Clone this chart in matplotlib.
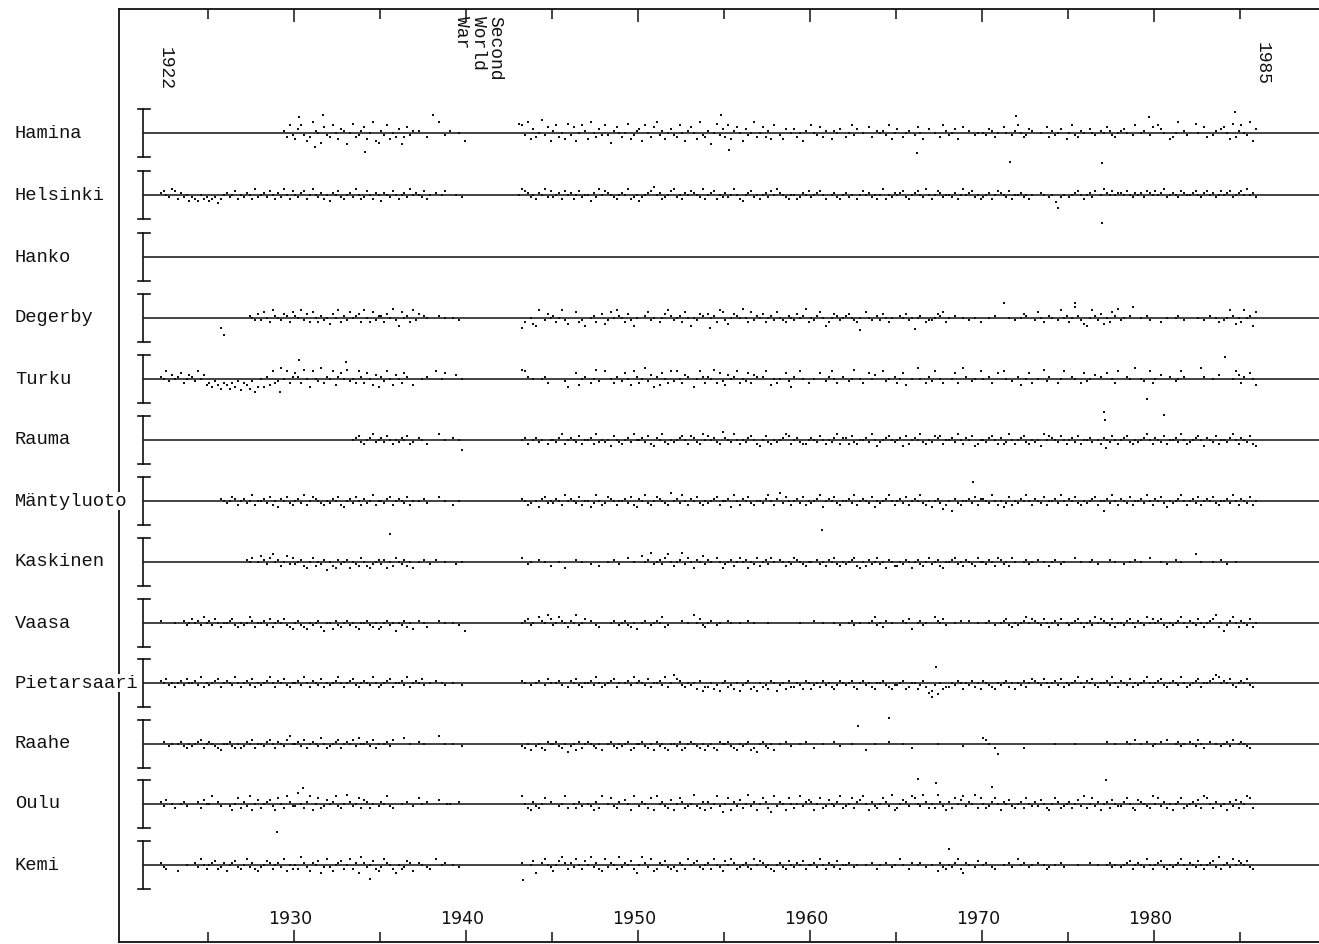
import matplotlib
matplotlib.use("Agg")
import matplotlib.pyplot as plt
import numpy as np

# ---------------- data ----------------
stations = ["Hamina", "Helsinki", "Hanko", "Degerby", "Turku", "Rauma",
            "Mäntyluoto", "Kaskinen", "Vaasa", "Pietarsaari", "Raahe",
            "Oulu", "Kemi"]
first_year = 1922
samples_per_year = 6
decade_labels = [1930, 1940, 1950, 1960, 1970, 1980]
start_label, end_label = "1922", "1985"
event_label = "Second\nWorld\nWar"

# residuals, one char per sample (6 per year, 1922-1985), 'm' = 0,
# 'n','o','p',... = +1,+2,+3...; 'l','k','j',... = -1,-2,-3...; '.' = no data
hamina = """
...... ...... ...... ...... ...... ...... ...... ..nkql
joqlik snmhpl kqmjon gmrkln pjmsih nlqjmk ogkpln .n..k.
..s.l. n..m.i ...... ...... ...... rqlsjo kmtlpi nqkmjr
lpimqn jsmkol qlhnpm kmrjln oiqmkp slnjmo lkqmin pmjslk
ngmrlo kqjnpm iolmsk mpknjq .ljo.m okmin. qmlpkn .jnmo.
kmqlo. m.pk.n mnlqjm o.kmn. lpmj.o .m.kqn lmoj.p .n.lm.
mlonkm .pm.ln qmklon ..m.pk nlmo.j mqlknm .oml.n mpnlkm
nom.lq .mn.lp .qom.j kms.nl ..rm.p k.ln.o pmjrkn qmlsio
"""
helsinki = """
.nomlp oknlmj lkjmkl jklikm nlmokm lnmkpl mnlomk nlpmko
mlnokm pmlnkm jnmolk mnlpmk lomknm jnmlom kmnlpm nmlokm
.n.mo. ..m.l. ...... ...... ...... mponlm knmplo lmnkom
nkmolm mjnlpm onmlkm nmpklm jlmnoq mnklmo plmknm onmlpk
mnokml nlmpmk jmnolm kmnlom pnmlkm mklnmo lmnomk .mnlkm
nlm.km omnlmk mpkmln mnolkm nomlpm kmonlm mlnkmp mnolmk
lmnkmo nmlokm mnlmkm ..nm.l m..lm. lmnomk mnlo.m pnmomn
nmomln mnlonm omnplm nmlonm mnomln omnlmo mnolmn ompmnl
"""
hanko = ""
degerby = """
...... ...... ...... ....hd ...... ..nmlo lpmkqn mlonkp
nmqlok pmknlm jomqkn lpmnok qmkpln nkomrl ipmnkq lo.nm.
..n.m. .m.l.. ...... ...... ...... .hk.mj iq.lom nkmqlj
..pkli .mnk.o jlpmqn mkolim ..nplm .kmoqn lmnkpm imlon.
omnkqp ljmonm rmkpln mokmnl pmlknm lomnrk mlnpmi kmonlm
nomlkm .pml.n lomkm. .nmolm gmn.kl lmonpk m.n..m .l.m.k
..m.n. ...m.l .mon.. lpmk.n m.lqmn kmsnlj imqnlo jmkpnr
lm.ns. .m.nl. ..k.m. .mn.l. ...m.l .n.mk. lmqnjm kqmnip
"""
turku = """
.nmqlo mnpkmo nlqmoj kiljhk jhkilg kjhlfi minjqk lsmqkn
pnkrmi qmlskn mqjnpm rlmkqn kpmjoi nlqmjo mkpn.j ..m.n.
.q.mp. ..o.m. ...... ...... ...... .rqn.m ..mnk. ....li
..pjmn .kmrl. q.mkn. lpmjqn kmsloi njpmkq lqmkon .imqnk
nmrkpl jomnqk mlpkon .nq.jm km.pli n.qm.k .m.p.l nqmk.n
.lmr.m k.pmo. .qlm.n kmpj.m .sm.kn lq.mk. .mpk.s n.lm.q
m.nk.p .qm.l. nj.mpk .m.rln ..kmq. .nm.kp lm.o.n .p.mkq
..nm.s .ml.qk m.o..n .lmqn. ....sn ..m.o. ...mqo kn.pmj
"""
rauma = """
...... ...... ...... ...... ...... ...... ...... ......
...... ...... ...... ..mnol kmnplm nlomkm lnmokl .nm.k.
..p.m. .n.mh. ...... ...... ...... .mnk.m nlm.km mlnpkm
nmlokm mnkplm lmjoml kmnlpm mnlokj nmplkm lmnomk onlkpm
omnlkq nmlpmk mlnomk jmolkm lmnpok mnlkkm nmlomk mlnpkn
nkolkm mnlpmj lmnoml mnjokm nmplkm lonokm mnlpmk nmojkm
mlnomk nklpmk mnolkm lmjpmo nmlomk mnlokm mnl.mk nmlomk
mnolkm lmnpmk nmlokm mnlpmk lmnomj nmlokm mlnpmk nmlokj
"""
mantyluoto = """
...... ...... ...... ....nm lmonkm nlmpkm mnlokm jnmolk
mnlpkm onmlkm lnmokj mnlomk nlmpkm mlnokm nmlokm .m.nl.
..o.m. .k.m.. ...... ...... ...... .nmkl. mjnolm lnmkpm
nmlokm mjlpmk lonmkm mnlokj nmplkm onmlkq mnlpmk nmolkm
lmnokm mnjpmk nmolkm mlnpmk nqlomk mnlokm lmnpjm nmolkm
mnlpkm nmlojm lmnpmk mnlokm nmplkm jmnlik mhnlkm mnlokn
nmlpmk mjlokm lnmpmk nmlokm mnlpmk nmolkm lmnokm mnlpmk
nmlokm mnlpmk nmoljm lmnpmk mnlokm nmolkm mnlpmk nmlokm
"""
kaskinen = """
...... ...... ...... ...... ...... .nmo.m pnloqm nkmplo
lmnkjm okmlni mkjnlm njmlko mkjlmn lnjmko mlnkmj .m.n.l
.n..m. ..l.m. ...... ...... ...... .o.lm. .n.m.k ..m.j.
..n.m. .l..k. .m.n.l ..o.m. .pmnrl mnloqm kmnrlo mjnmpl
nm.omj lmnkmo mnjmlo kmnlom .nmkml onmlkm m.nlmk nmolkm
lmnokj mknlmo lmjnmk kmlnmj mnlkmo lmnkjm mnolmk nmlkom
mlnmko nlmkom ..mnlm .n.m.k mn.lm. ..o.m. .mn.l. ..n.m.
.l.m.n .m..o. ..m.l. .n.m.. ..q.m. ..m..n .l..m. ......
"""
vaasa = """
.n.... m..nlm omnlpm nlomkm mnolkm lmpnkm mnlokm nmolkj
mnlkjm lmnkim mjnlkm nlmkjm mnlkmj kmnlmi mlnkmj .n.mk.
..n.m. .m.l.i ...... ...... ...... .mnolm .pnmqo lmpnmk
nmqlmo .n.lk. ..mn.l mnlkmj .mn.lm nmpkl. ...n.m .qmolk
mn.lm. .nm..m ..n.m. ...m.. ...... ..m... .n..m. ..m.l.
.mnl.m ..mnpl mkn.m. ..nmoj .mnlm. .pnmol ..m.n. .n..m.
.mn.l. mnolkm lmnpmo nmlomk mnlo.m lmnomk mnlpmo nmlokm
mlnomk nmlpmo mnolkm lmnpmk nmlomk mnoqkm ilnpmk nmlokm
"""
pietarsaari = """
.nmolm kmnlom mnlpkm lmnokm nmlpmk mnlokm lmnpmk nmolkm
mnlpmk nmlokm lmnpmk mnolkm nmlpmk lmnokm mnlpkm nmol.m
.n.ml. .m..l. ...... ...... ...... .nm.l. mn.lom .mnl.k
nmolkm mnlpmk lmnokm .mnlpm nmlokm mnlpkm qonlkm lmjnik
kmjlim nkljmi lmnjki mkljnm ilmjnk kmljnm jlmknl mkjlnm
lmnkjm nlmkjm mnlkjl lmnjkm mjlnkh ilgmjk kmlnmj mlnkmj
nmlkjm lmnkmj mlnkmo nmlomk mnlokm lmnpmk nmolkm mnlpmk
nmlokm lmnpmk mnolkm nmlpmk lmnokm mnoqpm nmolkm nmolk.
"""
raahe = """
..n.lm .mnlkm lmnokm nmlkjm mnlkmk lnmokm mlnomk nmloqm
mnlokm nmlpmk lmnokm nmolpm mnlokm .mnlo. ..p.m. .n.m..
..q.m. .m..l. ...... ...... ...... .lkmj. lmkjnm mnlkmi
lmjnkm nmlkmj .mnlkm lmnjkm mnlkmj nlmkjm mlnjkm nmlkmj
lmkjnm mnlkjm lmnjki mnlkmj .m.n.l ..m.n. .k..m. ..n.l.
..m... .j..m. ...n.. ..m..k ...... ..m... .....l ......
pom.kh ...... ..k... ...... .m.... ..m... ...... .n..m.
..nm.o .m.n.l m.n.o. .mnlm. nmlomk .n.m.l mnlo.m nmlk..
"""
oulu = """
.nlo.m k.mnl. ..nkom mq.nl. .ljmpk nlqjmo kmnolj pmkqnl
lsmknq jmpklo mnqlkm rnlmpk onkm.l nmqlk. .m.n.l .pm.n.
..o..m m..n.. ...... ...... ...... .qmkjn lkmp.n ..lmqk
.mknl. mljnkq .mplkn .omjq. lnmkpj qmnlko jmpnkl mrlknj
nkmqli mpjnlo kmrlnj mpnkiq lnmjpm kmqlno njmpkl omlnqk
lmpkno qmjnlk mpnlrj kmonlq pmlrnk mkrnlj nkpmoq lnmrkp
mklnpm jnmolk mnkpml nlomkj mpnklm nkmolq kmplnj mnkoml
lnpmkj onmlkq mplnkm jmnpkl mnlokq pmkn.l mjnlok nmqpk.
"""
kemi = """
.nlk.. .j..m. .nlpmk mnokln jmnolk mplnkj lmonkm nlpjmk
mkqnlj nmoilp ljmnok mpkniq nlmokj lpnmki mklonj .nm.lk
.p.mn. .m.l.. ...... ...... ...... .n..mo i.npml jmoqnk
nlpmko mqlnkj plnmkq lnmoki mqnlpj knmolk ljnmkp mnolkm
nkpmlj ompnkl mnlkpm onlmkj mnlkom lnmokm mnlpmk nmlokm
mn.lm. .m.n.k m.n.lm .pm.kn .mn.l. m.jnlk mlnpki nm.lo.
mn.lk. .m.nl. pmn.lm .n.mkl .m.nl. ...m.. .n..m. .mnlm.
lmnokm nmlpmk mnolkm lmnpmk nmlomk mnolqk mnlpmo nmolk.
"""
codes = [hamina, helsinki, hanko, degerby, turku, rauma, mantyluoto,
         kaskinen, vaasa, pietarsaari, raahe, oulu, kemi]

# isolated large residuals (year, value) in the same units
outliers = {
    "Hamina": [(1930.3, 8.5), (1931.7, 9.5), (1934.1, -10), (1931.2, -7.5),
               (1938.1, 9.5), (1954.8, 9.5), (1955.3, -9), (1966.2, -10.5),
               (1971.6, -15), (1972.0, 9), (1977.0, -16), (1979.7, 8.5),
               (1984.7, 11)],
    "Helsinki": [(1974.3, -3.7), (1974.4, -6.8), (1977.0, -14.7)],
    "Degerby": [(1954.2, -5), (1962.9, -6.5), (1971.3, 8), (1975.4, 8)],
    "Turku": [(1930.3, 10), (1933.0, 9), (1929.2, -7), (1979.6, -10.5),
              (1984.1, 11.5)],
    "Rauma": [(1977.1, 14.7), (1977.15, 10.5), (1977.2, -4.2), (1980.6, 13)],
    "Mäntyluoto": [(1969.5, 10), (1977.1, -5)],
    "Kaskinen": [(1935.6, 14.7), (1960.7, 16.8)],
    "Pietarsaari": [(1967.3, 8.5), (1967.1, -7.5)],
    "Raahe": [(1962.8, 9.5), (1964.6, 13.5)],
    "Oulu": [(1929.0, -14.7), (1930.5, 8.5), (1966.3, 13), (1967.3, 11),
             (1970.6, 9), (1977.2, 12.5)],
    "Kemi": [(1934.4, -7.5), (1943.3, -8), (1968.1, 8.5)],
}

# ---------------- layout (pixel geometry of the figure) ----------------
W, H = 1319, 944
PX_1930, PX_PER_YEAR = 294.0, 17.2
AX_LEFT, AX_RIGHT, AX_TOP, AX_BOTTOM = 119, 1332, 9, 942
BASE_PX = [133, 195, 257, 318, 379, 440, 501, 562, 623, 683, 744, 804, 865]
UNIT_PX = 1.9        # pixels per residual unit
BRACKET_HALF = 24    # pixels


def yr(px):
    return 1930 + (px - PX_1930) / PX_PER_YEAR


def decode(code, n):
    vals = [np.nan if c == "." else float(ord(c) - ord("m"))
            for c in "".join(code.split())]
    vals = (vals + [np.nan] * n)[:n]
    return np.array(vals)


n_samples = 64 * samples_per_year
t = first_year + (np.arange(n_samples) + 0.5) / samples_per_year

fig = plt.figure(figsize=(W / 100, H / 100), dpi=100)
ax = fig.add_axes([AX_LEFT / W, (H - AX_BOTTOM) / H,
                   (AX_RIGHT - AX_LEFT) / W, (AX_BOTTOM - AX_TOP) / H])
x0, x1 = yr(AX_LEFT), yr(AX_RIGHT)
ax.set_xlim(x0, x1)
ax.set_ylim(AX_BOTTOM, AX_TOP)
ink = "#111111"
MS = 1.6

for name, code, base in zip(stations, codes, BASE_PX):
    vals = decode(code, n_samples)
    ax.plot(t, base - UNIT_PX * vals, linestyle="none", marker="s",
            markersize=MS, markeredgewidth=0, color=ink)
    if name in outliers:
        ox = [o[0] for o in outliers[name]]
        oy = [base - UNIT_PX * o[1] for o in outliers[name]]
        ax.plot(ox, oy, linestyle="none", marker="s", markersize=MS,
                markeredgewidth=0, color=ink)
    # zero line
    ax.plot([yr(144), x1], [base, base], color=ink, lw=1.1)
    # scale bracket
    bx = yr(143)
    ax.plot([bx, bx], [base - BRACKET_HALF, base + BRACKET_HALF], color=ink, lw=1.2)
    for yy in (base - BRACKET_HALF, base + BRACKET_HALF):
        ax.plot([yr(137.5), yr(149.5)], [yy, yy], color=ink, lw=1.2)
    fig.text(15 / W, 1 - base / H, name, ha="left", va="center",
             family="Liberation Mono", fontsize=13.5, color=ink,
             bbox=dict(facecolor="white", edgecolor="none", pad=0.5))

# frame and ticks
for s in ("left", "top", "bottom"):
    ax.spines[s].set_linewidth(1.3)
    ax.spines[s].set_color(ink)
ax.spines["right"].set_visible(False)
ax.set_xticks(decade_labels)
ax.set_xticks([1925, 1935, 1945, 1955, 1965, 1975, 1985], minor=True)
ax.tick_params(which="both", direction="in", top=True, bottom=True,
               left=False, right=False, labelbottom=False, labelleft=False,
               color=ink, width=1.1)
ax.tick_params(which="major", length=9)
ax.tick_params(which="minor", length=7)
ax.set_yticks([])

for yv in decade_labels:
    ax.text(yv - 0.2, 919, str(yv), ha="center", va="center",
            family="DejaVu Sans", fontsize=12.5, color=ink)

ax.text(yr(165), 47, start_label, rotation=270, ha="center", va="top",
        family="Liberation Mono", fontsize=13, color=ink)
ax.text(yr(1262), 42, end_label, rotation=270, ha="center", va="top",
        family="Liberation Mono", fontsize=13, color=ink)
ax.text(yr(478), 16, event_label, rotation=270, ha="center", va="top",
        multialignment="left", linespacing=0.95,
        family="Liberation Mono", fontsize=13, color=ink)

fig.savefig("out.png", dpi=100, facecolor="white")
